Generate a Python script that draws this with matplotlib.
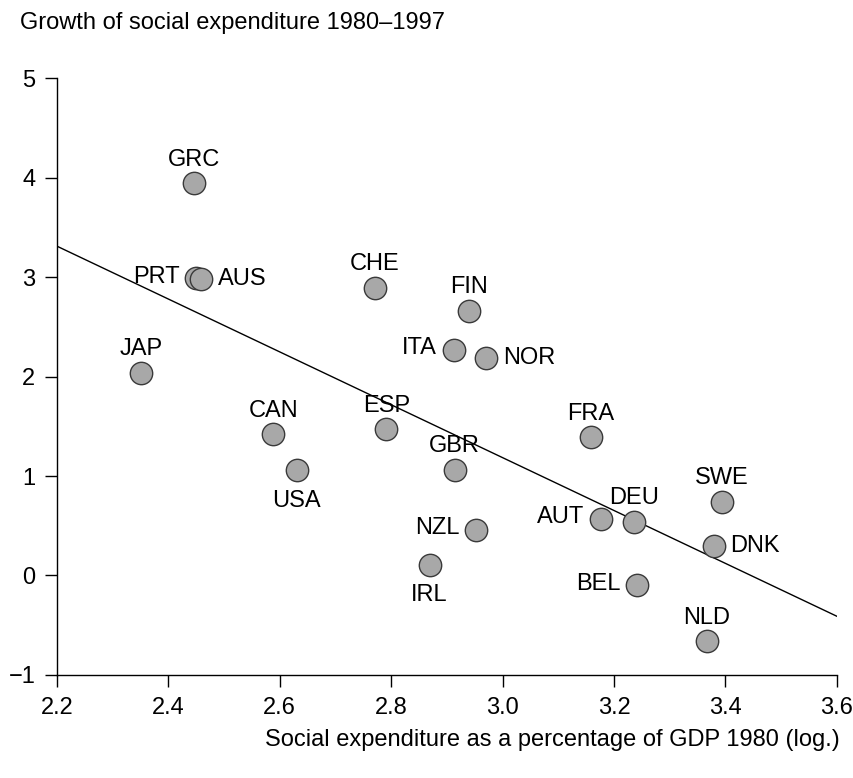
import matplotlib.pyplot as plt

plt.rcParams['font.family'] = ['Liberation Sans', 'DejaVu Sans']

# country codes, social expenditure 1980 (log) and growth 1980-1997
countries = ["GRC", "PRT", "AUS", "JAP", "CAN", "USA", "CHE", "ESP", "FIN", "ITA", "NOR",
             "GBR", "NZL", "IRL", "FRA", "AUT", "DEU", "SWE", "DNK", "BEL", "NLD"]
spend_1980 = [2.446, 2.450, 2.459, 2.351, 2.588, 2.630, 2.770, 2.791, 2.939, 2.912, 2.971,
              2.914, 2.953, 2.869, 3.158, 3.176, 3.235, 3.393, 3.379, 3.242, 3.366]
growth = [3.94, 2.99, 2.98, 2.04, 1.42, 1.06, 2.89, 1.47, 2.66, 2.27, 2.19,
          1.06, 0.46, 0.11, 1.39, 0.57, 0.54, 0.74, 0.30, -0.10, -0.66]

# regression line end points
fit_x = [2.2, 3.6]
fit_y = [3.31, -0.41]

# where each label goes relative to its dot
label_side = {"PRT": "left", "AUS": "right", "USA": "below", "ITA": "left", "NOR": "right",
              "NZL": "left", "IRL": "below", "AUT": "left", "DNK": "right", "BEL": "left"}

fs = 17

fig = plt.figure(figsize=(8.54, 7.78), dpi=100)
ax = fig.add_axes([0.0667, 0.1324, 0.9133, 0.7673])

ax.plot(fit_x, fit_y, color='black', lw=1, zorder=1)
ax.scatter(spend_1980, growth, s=260, color='#a8a8a8', edgecolor='#3a3a3a', lw=1, zorder=2)

for name, x, y in zip(countries, spend_1980, growth):
    side = label_side.get(name, "above")
    if side == "above":
        ax.annotate(name, (x, y), xytext=(0, 17), textcoords='offset points',
                    ha='center', va='center', fontsize=fs)
    elif side == "below":
        ax.annotate(name, (x, y), xytext=(0, -22), textcoords='offset points',
                    ha='center', va='center', fontsize=fs)
    elif side == "left":
        ax.annotate(name, (x, y), xytext=(-12, 1), textcoords='offset points',
                    ha='right', va='center', fontsize=fs)
    else:
        ax.annotate(name, (x, y), xytext=(12, 0), textcoords='offset points',
                    ha='left', va='center', fontsize=fs)

ax.set_xlim(2.2, 3.6)
ax.set_ylim(-1, 5)
ax.set_xticks([2.2, 2.4, 2.6, 2.8, 3.0, 3.2, 3.4, 3.6])
ax.set_xticklabels(["2.2", "2.4", "2.6", "2.8", "3.0", "3.2", "3.4", "3.6"])
ax.set_yticks([-1, 0, 1, 2, 3, 4, 5])
ax.set_yticklabels(["\u22121", "0", "1", "2", "3", "4", "5"])
ax.tick_params(direction='out', length=8.5, width=1, labelsize=fs, pad=7)
for s in ['top', 'right']:
    ax.spines[s].set_visible(False)
for s in ['left', 'bottom']:
    ax.spines[s].set_linewidth(1)

fig.text(20 / 854, 1 - 23 / 778, "Growth of social expenditure 1980\u20131997",
         ha='left', va='center', fontsize=fs)
fig.text(840 / 854, 1 - 740 / 778, "Social expenditure as a percentage of GDP 1980 (log.)",
         ha='right', va='center', fontsize=fs)

fig.savefig("out.png", dpi=100)
